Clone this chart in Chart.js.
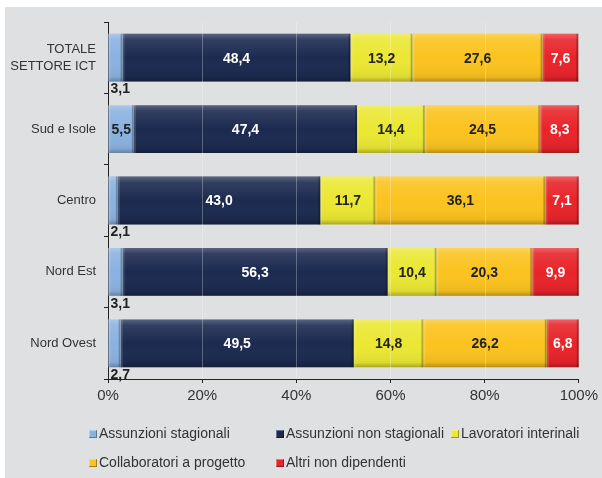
<!DOCTYPE html>
<html>
<head>
<meta charset="utf-8">
<script src="https://cdn.jsdelivr.net/npm/chart.js@4/dist/chart.umd.min.js"></script>
<style>
  html, body { margin: 0; padding: 0; background: #fff; }
  #panel { position: absolute; left: 5px; top: 7px; right: 0; bottom: 0; background: #dfe0e2; }
  #wrap { position: absolute; left: 0; top: 0; width: 602px; height: 478px; }
  #legend { position: absolute; left: 0; top: 0; width: 602px; height: 478px; pointer-events: none;
    font-family: "Liberation Sans", Arial, sans-serif; font-size: 14px; color: #333; }
  .item { position: absolute; white-space: nowrap; line-height: 16px; }
  .box { display: inline-block; width: 8px; height: 8px; margin-right: 2px; vertical-align: 0px;
    box-shadow: inset -1px -1px 0 rgba(0,0,0,0.35), inset 1px 1px 0 rgba(255,255,255,0.35); }
</style>
</head>
<body>
<div id="panel"></div>
<div id="wrap"><canvas id="chart" width="602" height="478"></canvas></div>
<div id="legend"></div>
<script>
document.addEventListener('DOMContentLoaded', function() {
  const categorie = [
    ['TOTALE', 'SETTORE ICT'],
    'Sud e Isole',
    'Centro',
    'Nord Est',
    'Nord Ovest'
  ];
  const serieNomi = [
    'Assunzioni stagionali',
    'Assunzioni non stagionali',
    'Lavoratori interinali',
    'Collaboratori a progetto',
    'Altri non dipendenti'
  ];
  const stagionali    = [3.1, 5.5, 2.1, 3.1, 2.7];
  const nonStagionali = [48.4, 47.4, 43.0, 56.3, 49.5];
  const interinali    = [13.2, 14.4, 11.7, 10.4, 14.8];
  const collaboratori = [27.6, 24.5, 36.1, 20.3, 26.2];
  const altri         = [7.6, 8.3, 7.1, 9.9, 6.8];
  const tickX = [0, 20, 40, 60, 80, 100];

  const colori = ['#8ab2e0', '#1c2a50', '#ebe733', '#fbc31f', '#e8242a'];
  const coloriTesto = ['#222', '#fff', '#222', '#222', '#fff'];
  const valori = [stagionali, nonStagionali, interinali, collaboratori, altri];

  const datasets = valori.map((v, i) => ({
    label: serieNomi[i],
    data: v,
    backgroundColor: colori[i],
    borderWidth: 0,
    barPercentage: 0.67,
    categoryPercentage: 1
  }));

  function fmt(v) {
    return v.toFixed(1).replace('.', ',');
  }

  // light bevel on each segment, faint grid on top, then the value labels
  const barExtras = {
    id: 'barExtras',
    afterDatasetsDraw(chart) {
      const ctx = chart.ctx;
      const area = chart.chartArea;
      const xs = chart.scales.x;

      chart.data.datasets.forEach((ds, i) => {
        chart.getDatasetMeta(i).data.forEach(bar => {
          const p = bar.getProps(['x', 'y', 'base', 'height'], true);
          const left = Math.min(p.base, p.x), w = Math.abs(p.x - p.base);
          const top = p.y - p.height / 2, h = p.height;
          ctx.save();
          const g = ctx.createLinearGradient(0, top, 0, top + h);
          g.addColorStop(0, 'rgba(255,255,255,0.28)');
          g.addColorStop(0.12, 'rgba(255,255,255,0.10)');
          g.addColorStop(0.5, 'rgba(255,255,255,0)');
          g.addColorStop(0.9, 'rgba(0,0,0,0.06)');
          g.addColorStop(1, 'rgba(0,0,0,0.28)');
          ctx.fillStyle = g;
          ctx.fillRect(left, top, w, h);
          ctx.fillStyle = 'rgba(0,0,0,0.25)';
          ctx.fillRect(left + w - 2, top, 2, h);
          ctx.fillStyle = 'rgba(255,255,255,0.15)';
          ctx.fillRect(left, top, 2, h);
          ctx.restore();
        });
      });

      ctx.save();
      ctx.strokeStyle = 'rgba(255,255,255,0.28)';
      ctx.lineWidth = 1;
      tickX.slice(1, -1).forEach(t => {
        const x = Math.round(xs.getPixelForValue(t)) + 0.5;
        ctx.beginPath();
        ctx.moveTo(x, area.top);
        ctx.lineTo(x, area.bottom);
        ctx.stroke();
      });
      ctx.restore();

      ctx.save();
      ctx.font = 'bold 14px "Liberation Sans", Arial, sans-serif';
      ctx.textBaseline = 'middle';
      chart.data.datasets.forEach((ds, i) => {
        chart.getDatasetMeta(i).data.forEach((bar, j) => {
          const v = ds.data[j];
          const p = bar.getProps(['x', 'y', 'base', 'height'], true);
          if (v < 4) {
            ctx.fillStyle = '#222';
            ctx.textAlign = 'left';
            ctx.fillText(fmt(v), p.base + 2, p.y + p.height / 2 + 8);
          } else {
            ctx.fillStyle = coloriTesto[i];
            ctx.textAlign = 'center';
            ctx.fillText(fmt(v), (p.base + p.x) / 2, p.y + 1);
          }
        });
      });
      ctx.restore();
    }
  };

  new Chart(document.getElementById('chart'), {
    type: 'bar',
    data: { labels: categorie, datasets: datasets },
    options: {
      indexAxis: 'y',
      responsive: false,
      animation: false,
      layout: { padding: { left: 0, right: 22, top: 22, bottom: 69 } },
      plugins: {
        legend: { display: false },
        tooltip: { enabled: false }
      },
      scales: {
        x: {
          stacked: true,
          min: 0,
          max: 100,
          afterBuildTicks(scale) {
            scale.ticks = tickX.map(v => ({ value: v }));
          },
          afterFit(scale) { scale.height = 30; },
          border: { display: true, color: '#222', width: 1 },
          grid: { drawOnChartArea: false, drawTicks: true, tickLength: 4, color: '#222' },
          ticks: {
            callback: v => v + '%',
            color: '#333',
            padding: 4,
            maxRotation: 0,
            font: { family: '"Liberation Sans", Arial, sans-serif', size: 15 }
          }
        },
        y: {
          stacked: true,
          afterFit(scale) { scale.width = 108; },
          border: { display: true, color: '#222', width: 1 },
          grid: { drawOnChartArea: false, drawTicks: true, tickLength: 4, color: '#222', offset: true },
          ticks: {
            color: '#333',
            padding: 8,
            font: { family: '"Liberation Sans", Arial, sans-serif', size: 13, lineHeight: 1.3 }
          }
        }
      }
    },
    plugins: [barExtras]
  });

  // legend laid out in two fixed columns, like the printed figure
  const posizioni = [[89, 425], [276, 425], [451, 425], [89, 454], [276, 454]];
  const legend = document.getElementById('legend');
  serieNomi.forEach((nome, i) => {
    const item = document.createElement('div');
    item.className = 'item';
    item.style.left = posizioni[i][0] + 'px';
    item.style.top = posizioni[i][1] + 'px';
    const box = document.createElement('span');
    box.className = 'box';
    box.style.background = colori[i];
    item.appendChild(box);
    item.appendChild(document.createTextNode(nome));
    legend.appendChild(item);
  });
});
</script>
</body>
</html>
